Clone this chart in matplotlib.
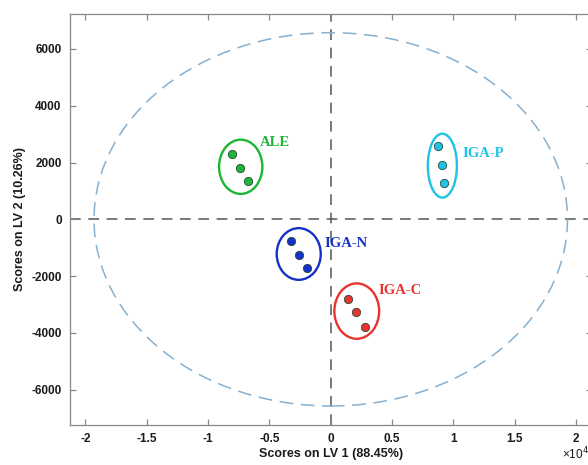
import numpy as np
import matplotlib.pyplot as plt
from matplotlib.patches import Ellipse

# scores (LV1 in raw units, shown as x10^4)
groups = ["ALE", "IGA-P", "IGA-N", "IGA-C"]
colors = ["#1db534", "#1ec3e6", "#1432c8", "#e8332e"]
lv1 = [[-8070, -7400, -6720], [8780, 9050, 9270], [-3260, -2610, -1960], [1380, 2030, 2800]]
lv2 = [[2300, 1820, 1350], [2580, 1920, 1280], [-760, -1270, -1700], [-2800, -3250, -3800]]

# group ellipses: centre x, centre y, width, height
ell_cx = [-7340, 9100, -2610, 2120]
ell_cy = [1850, 1890, -1220, -3230]
ell_w = [3530, 2370, 3590, 3650]
ell_h = [1910, 2250, 1820, 1950]
label_x = [-5770, 10770, -550, 3880]
label_y = [2690, 2310, -860, -2490]

# confidence ellipse
conf_a, conf_b = 19300, 6570

x_ticks = [-2, -1.5, -1, -0.5, 0, 0.5, 1, 1.5, 2]
y_ticks = [-6000, -4000, -2000, 0, 2000, 4000, 6000]

plt.rcParams["font.family"] = ["Liberation Sans", "DejaVu Sans"]
plt.rcParams["axes.unicode_minus"] = False
fig = plt.figure(figsize=(5.88, 4.65), dpi=100)
ax = fig.add_axes([0.119, 0.086, 0.887, 0.884])

ax.axhline(0, color="#555555", lw=1.1, ls=(0, (7, 5)), zorder=1)
ax.axvline(0, color="#555555", lw=1.1, ls=(0, (7, 5)), zorder=1)
ax.add_patch(Ellipse((0, 0), 2 * conf_a / 1e4, 2 * conf_b, fill=False,
                     ec="#86b0cf", lw=1.1, ls=(0, (9, 5)), zorder=1))

for i in range(len(groups)):
    ax.plot(np.array(lv1[i]) / 1e4, lv2[i], "o", ms=6, mfc=colors[i],
            mec="#2a4a3a", mew=0.6, zorder=3)
    ax.add_patch(Ellipse((ell_cx[i] / 1e4, ell_cy[i]), ell_w[i] / 1e4, ell_h[i],
                         fill=False, ec=colors[i], lw=1.7, zorder=2))
    ax.text(label_x[i] / 1e4, label_y[i], groups[i], color=colors[i],
            fontfamily="Liberation Serif", fontweight="bold", fontsize=10.5,
            va="center", ha="left")

ax.set_xlim(-2.126, 2.126)
ax.set_ylim(-7240, 7230)
ax.set_xticks(x_ticks)
ax.set_xticklabels([f"{t:g}" for t in x_ticks])
ax.set_yticks(y_ticks)
for s in ax.spines.values():
    s.set_color("#888888")
    s.set_linewidth(0.9)
ax.tick_params(direction="in", length=4, width=0.9, color="#888888",
               top=True, right=True, labelsize=8.5, labelcolor="#1a1a1a", pad=6)
for lab in ax.get_xticklabels() + ax.get_yticklabels():
    lab.set_fontweight("bold")

ax.set_xlabel("Scores on LV 1 (88.45%)", fontsize=9, fontweight="bold",
              color="#1a1a1a", labelpad=2)
ax.set_ylabel("Scores on LV 2 (10.26%)", fontsize=9, fontweight="bold",
              color="#1a1a1a", labelpad=4)
fig.text(0.955, 0.012, "×10$^4$", fontsize=8.5, color="#1a1a1a", ha="left")

fig.savefig("out.png", dpi=100)
